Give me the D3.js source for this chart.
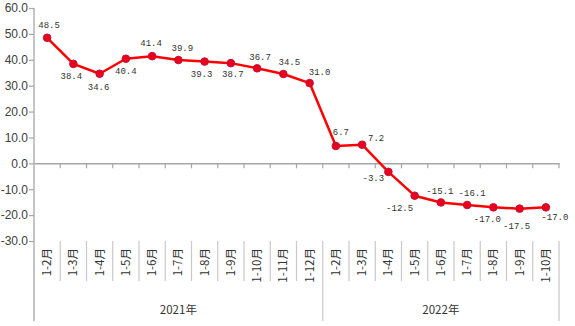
<!DOCTYPE html>
<html>
<head>
<meta charset="utf-8">
<script src="https://cdn.jsdelivr.net/npm/d3@7"></script>
<style>
  html, body { margin: 0; padding: 0; background: #fff; }
  svg { display: block; }
</style>
</head>
<body>
<svg id="chart" width="575" height="326"></svg>
<script>
// Cumulative growth rate by period (%)
const years = ["2021年", "2022年"];
const months2021 = ["1-2月", "1-3月", "1-4月", "1-5月", "1-6月", "1-7月", "1-8月", "1-9月", "1-10月", "1-11月", "1-12月"];
const months2022 = ["1-2月", "1-3月", "1-4月", "1-5月", "1-6月", "1-7月", "1-8月", "1-9月", "1-10月"];
const values2021 = [48.5, 38.4, 34.6, 40.4, 41.4, 39.9, 39.3, 38.7, 36.7, 34.5, 31.0];
const values2022 = [6.7, 7.2, -3.3, -12.5, -15.1, -16.1, -17.0, -17.5, -17.0];
const yTicks = [60, 50, 40, 30, 20, 10, 0, -10, -20, -30];

// Label nudges (dx, dy) relative to each point, in drawing order
const labelNudge = [
  [2, -13], [-2, 12], [-1, 13], [0, 12], [-1, -13], [4, -12], [-3, 12], [2, 11], [3, -11], [6, -12], [10, -11],
  [5, -14], [14, -7], [-15, 6], [-15, 12], [-1, -12], [5, -12], [-6, 12], [-3, 17], [9, 10]
];

const rows = [
  ...months2021.map((m, i) => ({ year: years[0], month: m, value: values2021[i] })),
  ...months2022.map((m, i) => ({ year: years[1], month: m, value: values2022[i] }))
];
rows.forEach((d, i) => d.key = i);

const fmt = v => v.toFixed(1);

const svg = d3.select("#chart");
const margin = { left: 34, right: 16, top: 8 };
const plotRight = 575 - margin.right;

const x = d3.scaleBand().domain(rows.map(d => d.key)).range([margin.left, plotRight]).paddingInner(0).paddingOuter(0);
const y = d3.scaleLinear().domain([-30, 60]).range([241, margin.top]);

const gray = "#a6a6a6";
const axisBottom = 321;

// y axis
const yAxis = d3.axisLeft(y).tickValues(yTicks).tickFormat(fmt).tickSize(5).tickSizeOuter(0);
const gy = svg.append("g").attr("transform", `translate(${margin.left},0)`).call(yAxis);
gy.select(".domain").remove();
gy.selectAll(".tick line").attr("stroke", gray).attr("stroke-width", 1.2);
gy.selectAll(".tick text")
  .attr("fill", "#404040")
  .attr("font-family", "'Liberation Sans', Arial, sans-serif")
  .attr("font-size", 12)
  .attr("x", -6);
svg.append("line")
  .attr("x1", margin.left).attr("x2", margin.left)
  .attr("y1", margin.top).attr("y2", axisBottom)
  .attr("stroke", gray).attr("stroke-width", 1.3);

// category axis crossing at zero
const gx = svg.append("g").attr("transform", `translate(0,${y(0)})`)
  .call(d3.axisBottom(x).tickValues([]).tickSizeOuter(0));
gx.select(".domain").attr("stroke", gray).attr("stroke-width", 1.5);
const boundaries = d3.range(1, rows.length + 1).map(i => margin.left + x.step() * i);
svg.append("g").selectAll("line").data(boundaries).join("line")
  .attr("x1", d => d).attr("x2", d => d)
  .attr("y1", y(0)).attr("y2", y(0) + 5)
  .attr("stroke", gray).attr("stroke-width", 1.2);

// multi-level category labels below the plot
const sepTop = y(-30);
const yearEnds = [months2021.length, rows.length];
svg.append("g").selectAll("line").data(boundaries).join("line")
  .attr("x1", d => d).attr("x2", d => d)
  .attr("y1", sepTop)
  .attr("y2", (d, i) => yearEnds.includes(i + 1) ? axisBottom : sepTop + 40)
  .attr("stroke", "#c8c8c8").attr("stroke-width", 1.2);

svg.append("g").selectAll("text").data(rows).join("text")
  .attr("transform", d => `translate(${x(d.key) + x.bandwidth() / 2 + 4},${sepTop + 7}) rotate(-90)`)
  .attr("text-anchor", "end")
  .attr("font-family", "'Noto Sans CJK SC', sans-serif")
  .attr("font-size", 11.5)
  .attr("fill", "#333")
  .text(d => d.month);

const yearGroups = d3.groups(rows, d => d.year);
svg.append("g").selectAll("text").data(yearGroups).join("text")
  .attr("x", ([, g]) => (x(g[0].key) + x(g[g.length - 1].key) + x.bandwidth()) / 2)
  .attr("y", 314)
  .attr("text-anchor", "middle")
  .attr("font-family", "'Noto Sans CJK SC', sans-serif")
  .attr("font-size", 11.5)
  .attr("fill", "#333")
  .text(([yr]) => yr);

// line and markers
const cx = d => x(d.key) + x.bandwidth() / 2;
svg.append("path").datum(rows)
  .attr("fill", "none")
  .attr("stroke", "#ff0000")
  .attr("stroke-width", 2.5)
  .attr("stroke-linejoin", "round")
  .attr("d", d3.line().x(cx).y(d => y(d.value)));

svg.append("g").selectAll("circle").data(rows).join("circle")
  .attr("cx", cx).attr("cy", d => y(d.value)).attr("r", 3.8)
  .attr("fill", "#e8001c").attr("stroke", "#c4103a").attr("stroke-width", 1);

// value labels
svg.append("g").selectAll("text").data(rows).join("text")
  .attr("x", d => cx(d) + labelNudge[d.key][0])
  .attr("y", d => y(d.value) + labelNudge[d.key][1])
  .attr("dy", "0.35em")
  .attr("text-anchor", "middle")
  .attr("font-family", "'Liberation Mono', 'DejaVu Sans Mono', monospace")
  .attr("font-size", 9)
  .attr("fill", "#333")
  .text(d => fmt(d.value));
</script>
</body>
</html>
